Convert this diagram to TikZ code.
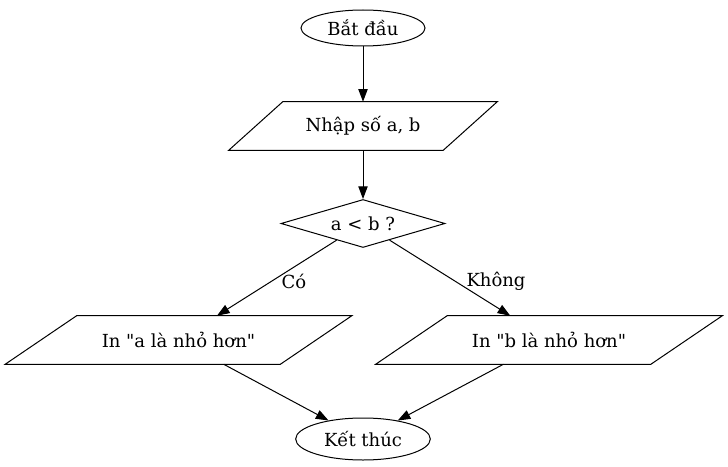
\documentclass[tikz,border=0pt]{standalone}
\usepackage{fontspec}
\setmainfont{DejaVu Serif}
\usetikzlibrary{shapes.geometric,arrows.meta}
\begin{document}
\begin{tikzpicture}[x=0.75pt,y=-0.75pt,
  font=\fontsize{13.5pt}{16pt}\selectfont,
  every node/.style={inner sep=0pt},
  terminal/.style={draw,ellipse,line width=0.75pt},
  io/.style={rectangle,minimum height=36pt},
  shapeline/.style={line width=0.75pt,line join=miter},
  decision/.style={draw,diamond,aspect=3.4,line width=0.75pt,minimum width=123pt,minimum height=36pt},
  flow/.style={line width=0.75pt,-{Triangle[length=9.5pt,width=7pt]}},
  lbl/.style={fill=none}]
\useasboundingbox (0,0) rectangle (728,467);
% nodes
\node[terminal,minimum width=93pt,minimum height=27pt] (start) at (363,28) {Bắt đầu};
\node[io,minimum width=160.5pt] (input) at (363,126) {Nhập số a, b};
\node[decision] (cmp) at (363,223.5) {a < b ?};
\node[io,minimum width=206pt] (pa) at (178.5,340) {In \textquotedbl a là nhỏ hơn\textquotedbl};
\node[io,minimum width=206pt] (pb) at (549,340) {In \textquotedbl b là nhỏ hơn\textquotedbl};
\node[terminal,minimum width=101pt,minimum height=31.5pt] (stop) at (363,439) {Kết thúc};
% parallelogram outlines of the input/output nodes
\draw[shapeline] ([xshift=20.25pt]input.north west) -- ([xshift=20.25pt]input.north east)
  -- ([xshift=-20.25pt]input.south east) -- ([xshift=-20.25pt]input.south west) -- cycle;
\foreach \n in {pa,pb}
  \draw[shapeline] ([xshift=26.8pt]\n.north west) -- ([xshift=26.8pt]\n.north east)
    -- ([xshift=-26.8pt]\n.south east) -- ([xshift=-26.8pt]\n.south west) -- cycle;
% connectors
\draw[flow] (start) -- (input);
\draw[flow] (input) -- (cmp);
\draw[flow] (cmp) -- (pa);
\draw[flow] (cmp) -- (pb);
\draw[flow] (pa) -- (stop);
\draw[flow] (pb) -- (stop);
\node[lbl] (yes) at (294,281) {Có};
\node[lbl] (no) at (496,281) {Không};
\end{tikzpicture}
\end{document}
